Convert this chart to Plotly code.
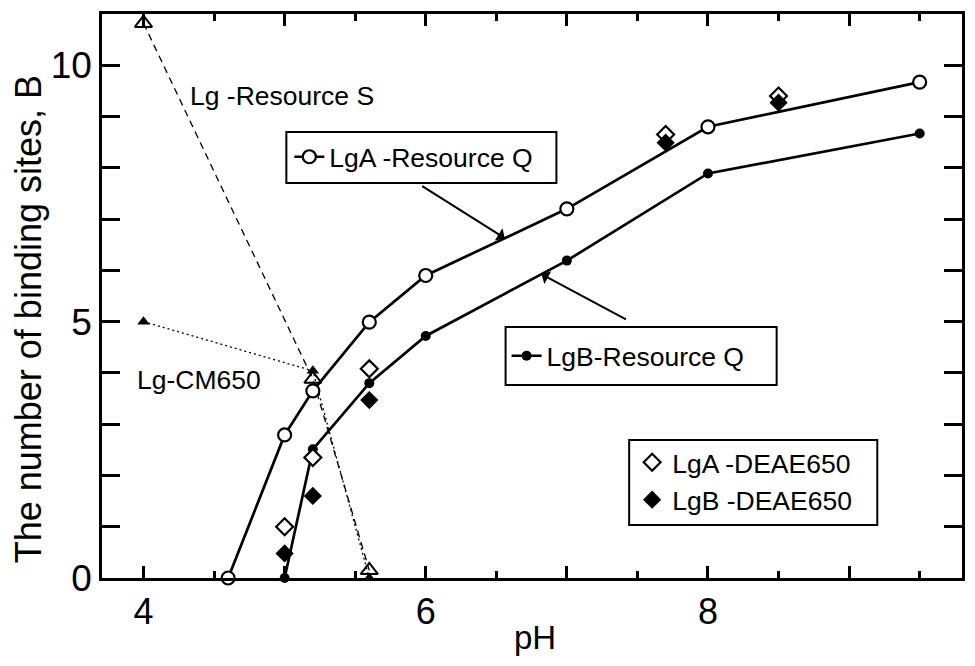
import numpy as np
import plotly.graph_objects as go

# ---- data ----
ph_a_q = [4.6, 5.0, 5.2, 5.6, 6.0, 7.0, 8.0, 9.5]
lga_q = [0.0, 2.79, 3.65, 4.99, 5.90, 7.20, 8.80, 9.67]

ph_b_q = [5.0, 5.2, 5.6, 6.0, 7.0, 8.0, 9.5]
lgb_q = [0.0, 2.51, 3.80, 4.72, 6.19, 7.89, 8.67]

ph_deae = [5.0, 5.2, 5.6, 7.7, 8.5]
lga_deae = [1.0, 2.35, 4.08, 8.65, 9.40]
lgb_deae = [0.48, 1.60, 3.47, 8.49, 9.27]

ph_s = [4.0, 5.2, 5.6]
lg_s = [10.82, 3.88, 0.15]

ph_cm = [4.0, 5.2, 5.6]
lg_cm = [5.0, 4.04, 0.0]

x_major = [4, 5, 6, 7, 8, 9]
x_labels = ["4", "", "6", "", "8", ""]
x_minor = [4.5, 5.5, 6.5, 7.5, 8.5, 9.5]
y_major = list(range(0, 11))
y_labels = ["0", "", "", "", "", "5", "", "", "", "", "10"]

FONT = "Liberation Sans, Arial, sans-serif"
TXT = 26.5

# layout geometry (pixels) -> paper helpers
W, H = 975, 666
ML, MR, MT, MB = 102, 10, 14, 88
PW, PH = W - ML - MR, H - MT - MB


def px(xp):
    return (xp - ML) / PW


def py(yp):
    return (H - MB - yp) / PH


fig = go.Figure()

fig.add_trace(go.Scatter(x=ph_s, y=lg_s, mode="lines+markers",
                         line=dict(color="black", width=1.3, dash="7px,5px"),
                         marker=dict(symbol="triangle-up-open", size=15, color="black",
                                     line=dict(width=2, color="black")),
                         showlegend=False, cliponaxis=False))
fig.add_trace(go.Scatter(x=ph_cm, y=lg_cm, mode="lines+markers",
                         line=dict(color="black", width=1.3, dash="2px,3px"),
                         marker=dict(symbol="triangle-up", size=11, color="black"),
                         showlegend=False, cliponaxis=False))

fig.add_trace(go.Scatter(x=ph_a_q, y=lga_q, mode="lines+markers", name="LgA -Resource Q",
                         line=dict(color="black", width=2.7),
                         marker=dict(symbol="circle", size=13, color="white",
                                     line=dict(width=2.2, color="black")),
                         legend="legend", cliponaxis=False))
fig.add_trace(go.Scatter(x=ph_b_q, y=lgb_q, mode="lines+markers", name="LgB-Resource Q",
                         line=dict(color="black", width=2.7),
                         marker=dict(symbol="circle", size=10, color="black"),
                         legend="legend2", cliponaxis=False))

fig.add_trace(go.Scatter(x=ph_deae, y=lga_deae, mode="markers", name="LgA -DEAE650",
                         marker=dict(symbol="diamond", size=13, color="white",
                                     line=dict(width=2.2, color="black")),
                         legend="legend3", cliponaxis=False))
fig.add_trace(go.Scatter(x=ph_deae, y=lgb_deae, mode="markers", name="LgB -DEAE650",
                         marker=dict(symbol="diamond", size=14, color="black"),
                         legend="legend3", cliponaxis=False))

# callout arrows pointing at the Resource Q curves
pa = 6.56
pb = 6.82
fig.add_annotation(x=pa, y=float(np.interp(pa, ph_a_q, lga_q)), xref="x", yref="y",
                   text="", showarrow=True, arrowhead=1, arrowsize=1.2, arrowwidth=2,
                   arrowcolor="black", ax=-84, ay=-53)
fig.add_annotation(x=pb, y=float(np.interp(pb, ph_b_q, lgb_q)), xref="x", yref="y",
                   text="", showarrow=True, arrowhead=1, arrowsize=1.2, arrowwidth=2,
                   arrowcolor="black", ax=86, ay=46)

fig.add_annotation(x=4.316, y=9.41, xref="x", yref="y", text="Lg -Resource S",
                   showarrow=False, xanchor="left", yanchor="middle",
                   font=dict(family=FONT, size=TXT, color="black"))
fig.add_annotation(x=3.942, y=3.87, xref="x", yref="y", text="Lg-CM650",
                   showarrow=False, xanchor="left", yanchor="middle",
                   font=dict(family=FONT, size=TXT, color="black"))

# axis titles
fig.add_annotation(x=px(28), y=py(319), xref="paper", yref="paper",
                   text="The number of binding sites, B", textangle=-90,
                   showarrow=False, xanchor="center", yanchor="middle",
                   font=dict(family=FONT, size=36, color="black"))
fig.add_annotation(x=px(537), y=py(637), xref="paper", yref="paper", text="pH",
                   showarrow=False, xanchor="center", yanchor="middle",
                   font=dict(family=FONT, size=33, color="black"))

# legend frames
for (x0, y0, x1, y1) in [(287, 132, 558, 183), (507, 327, 779, 385), (631, 440, 880, 525)]:
    fig.add_shape(type="rect", xref="paper", yref="paper",
                  x0=px(x0), x1=px(x1), y0=py(y1), y1=py(y0),
                  line=dict(color="black", width=2), fillcolor="rgba(0,0,0,0)")

leg_common = dict(bgcolor="rgba(0,0,0,0)", borderwidth=0,
                  font=dict(family=FONT, size=TXT, color="black"),
                  xanchor="left", yanchor="middle", itemwidth=30, tracegroupgap=0)

fig.update_layout(
    width=W, height=H,
    margin=dict(l=ML, r=MR, t=MT, b=MB),
    paper_bgcolor="white", plot_bgcolor="white",
    font=dict(family=FONT, color="black"),
    legend=dict(x=px(290), y=py(157), **leg_common),
    legend2=dict(x=px(508), y=py(356), **leg_common),
    legend3=dict(x=px(634), y=py(481), **leg_common),
    xaxis=dict(range=[3.706, 9.80], tickmode="array", tickvals=x_major, ticktext=x_labels,
               ticks="inside", ticklen=12, tickwidth=2.5, tickcolor="black",
               minor=dict(tickmode="array", tickvals=x_minor, ticks="inside", ticklen=7,
                          tickwidth=2.5, tickcolor="black", showgrid=False),
               showline=True, linewidth=2.5, linecolor="black", mirror="ticks",
               showgrid=False, zeroline=False,
               tickfont=dict(family=FONT, size=36, color="black")),
    yaxis=dict(range=[0, 11.0], tickmode="array", tickvals=y_major, ticktext=y_labels,
               ticks="inside", ticklen=18, tickwidth=2.5, tickcolor="black",
               showline=True, linewidth=2.5, linecolor="black", mirror="ticks",
               showgrid=False, zeroline=False,
               tickfont=dict(family=FONT, size=37, color="black")),
)

fig.write_html("out.html")
